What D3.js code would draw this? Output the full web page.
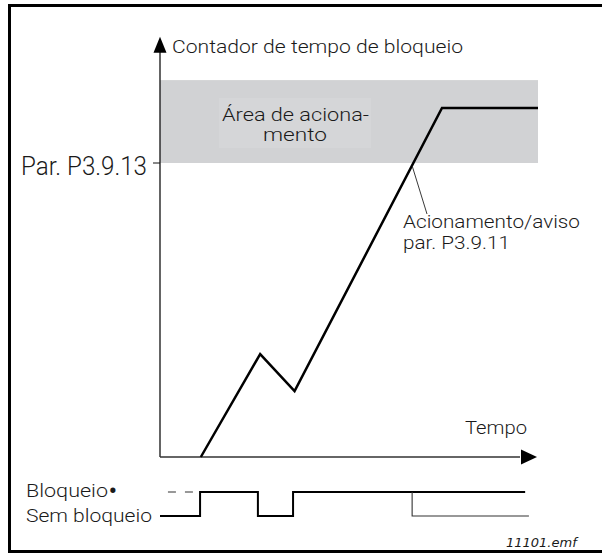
<!DOCTYPE html>
<html>
<head>
<meta charset="utf-8">
<script src="https://cdn.jsdelivr.net/npm/d3@7"></script>
<style>
  body { margin: 0; background: #fff; }
  text { font-family: Roboto, "Noto Sans", sans-serif; font-weight: 300; fill: #1a1a1a; }
</style>
</head>
<body>
<script>
// Time axis runs 0..100, counter is in % of the trip limit (P3.9.13 = 100)
const counterTimes = [10.8, 26.5, 35.6, 74.6, 100];
const counterValues = [0, 35, 22.4, 118.7, 118.7];
const tripZone = [100, 128.2];
const axisTop = 142.9;

// Stall signal: 1 = Bloqueio, 0 = Sem bloqueio
const stallTimes = [0, 10.6, 25.9, 35.2, 96.6];
const stallStates = [0, 1, 0, 1, 1];
const branchTimes = [66.7, 66.7, 97.6];
const branchStates = [1, 0, 0];

const labels = {
  yTitle: "Contador de tempo de bloqueio",
  limit: "Par. P3.9.13",
  zone: ["Área de aciona-", "mento"],
  trip: ["Acionamento/aviso", "par. P3.9.11"],
  xTitle: "Tempo",
  states: ["Bloqueio", "Sem bloqueio"],
  file: "11101.emf"
};

const width = 602, height = 554;

const svg = d3.select("body").append("svg")
    .attr("width", width)
    .attr("height", height);

// frame
svg.append("rect")
    .attr("x", 9.5).attr("y", 5.5)
    .attr("width", 600).attr("height", 546)
    .attr("fill", "none")
    .attr("stroke", "#000")
    .attr("stroke-width", 3);

const x = d3.scaleLinear().domain([0, 100]).range([160, 538]);
const y = d3.scaleLinear().domain([0, 100]).range([457, 163]);
const yState = d3.scaleLinear().domain([0, 1]).range([516, 492]);

// trip zone band
svg.append("rect")
    .attr("x", x(0))
    .attr("y", y(tripZone[1]))
    .attr("width", x(100) - x(0))
    .attr("height", y(tripZone[0]) - y(tripZone[1]))
    .attr("fill", "#d1d2d4");

svg.append("rect")
    .attr("x", 219).attr("y", 98)
    .attr("width", 152).attr("height", 50)
    .attr("fill", "#d5d6d8");

svg.append("text").attr("x", 222).attr("y", 121)
    .attr("font-size", 18)
    .attr("textLength", 147).attr("lengthAdjust", "spacingAndGlyphs")
    .text(labels.zone[0]);
svg.append("text").attr("x", 263).attr("y", 141)
    .attr("font-size", 18)
    .attr("textLength", 64).attr("lengthAdjust", "spacingAndGlyphs")
    .text(labels.zone[1]);

// axes
svg.append("line")
    .attr("x1", x(0)).attr("x2", x(0))
    .attr("y1", y(0)).attr("y2", y(axisTop) + 14)
    .attr("stroke", "#111").attr("stroke-width", 1.3);
svg.append("path")
    .attr("d", `M${x(0)},${y(axisTop)}L${x(0) - 6.5},${y(axisTop) + 16}L${x(0) + 6.5},${y(axisTop) + 16}Z`)
    .attr("fill", "#000");

svg.append("line")
    .attr("x1", x(0)).attr("x2", x(100) - 18)
    .attr("y1", y(0)).attr("y2", y(0))
    .attr("stroke", "#333").attr("stroke-width", 1.6);
svg.append("path")
    .attr("d", `M${x(100) - 1},${y(0)}L${x(100) - 17},${y(0) - 7.5}L${x(100) - 17},${y(0) + 7.5}Z`)
    .attr("fill", "#000");

// limit tick
svg.append("line")
    .attr("x1", x(0) - 7).attr("x2", x(0))
    .attr("y1", y(100)).attr("y2", y(100))
    .attr("stroke", "#111").attr("stroke-width", 1);

svg.append("text").attr("x", 172).attr("y", 53)
    .attr("font-size", 19)
    .attr("textLength", 291).attr("lengthAdjust", "spacingAndGlyphs")
    .text(labels.yTitle);

svg.append("text").attr("x", 21).attr("y", 175)
    .attr("font-size", 25)
    .attr("textLength", 126).attr("lengthAdjust", "spacingAndGlyphs")
    .text(labels.limit);

svg.append("text").attr("x", 465).attr("y", 434)
    .attr("font-size", 19)
    .attr("textLength", 62).attr("lengthAdjust", "spacingAndGlyphs")
    .text(labels.xTitle);

// counter line
const line = d3.line()
    .x((d, i) => x(counterTimes[i]))
    .y(d => y(d));

svg.append("path")
    .datum(counterValues)
    .attr("d", line)
    .attr("fill", "none")
    .attr("stroke", "#000")
    .attr("stroke-width", 2.5)
    .attr("stroke-linejoin", "miter");

// leader line to the trip point
svg.append("line")
    .attr("x1", 412.5).attr("y1", 167)
    .attr("x2", 427).attr("y2", 214)
    .attr("stroke", "#222").attr("stroke-width", 0.9);

svg.append("text").attr("x", 403).attr("y", 228)
    .attr("font-size", 18)
    .attr("textLength", 177).attr("lengthAdjust", "spacingAndGlyphs")
    .text(labels.trip[0]);
svg.append("text").attr("x", 403).attr("y", 249)
    .attr("font-size", 18)
    .attr("textLength", 107).attr("lengthAdjust", "spacingAndGlyphs")
    .text(labels.trip[1]);

// stall signal
const step = d3.line()
    .x((d, i) => x(stallTimes[i]))
    .y(d => yState(d))
    .curve(d3.curveStepAfter);

svg.append("path")
    .datum(stallStates)
    .attr("d", step)
    .attr("fill", "none")
    .attr("stroke", "#000")
    .attr("stroke-width", 2);

svg.append("line")
    .attr("x1", x(2.1)).attr("x2", x(9.5))
    .attr("y1", yState(1)).attr("y2", yState(1))
    .attr("stroke", "#777").attr("stroke-width", 1.3)
    .attr("stroke-dasharray", "8,9");

const branch = d3.line()
    .x((d, i) => x(branchTimes[i]))
    .y(d => yState(d));

svg.append("path")
    .datum(branchStates)
    .attr("d", branch)
    .attr("fill", "none")
    .attr("stroke", "#333")
    .attr("stroke-width", 1.1);

const bl = svg.append("text").attr("x", 26).attr("y", 497)
    .attr("font-size", 19);
bl.append("tspan")
    .attr("textLength", 82).attr("lengthAdjust", "spacingAndGlyphs")
    .text(labels.states[0]);
bl.append("tspan")
    .attr("font-size", 26)
    .attr("font-weight", 400)
    .attr("dx", 0.5)
    .attr("dy", 3)
    .text("•");

svg.append("text").attr("x", 26).attr("y", 522)
    .attr("font-size", 19)
    .attr("textLength", 126).attr("lengthAdjust", "spacingAndGlyphs")
    .text(labels.states[1]);

svg.append("text").attr("x", 506).attr("y", 547)
    .attr("font-size", 13)
    .attr("font-style", "italic")
    .style("font-family", "'DejaVu Sans', Verdana, sans-serif")
    .style("font-weight", "400")
    .text(labels.file);
</script>
</body>
</html>
